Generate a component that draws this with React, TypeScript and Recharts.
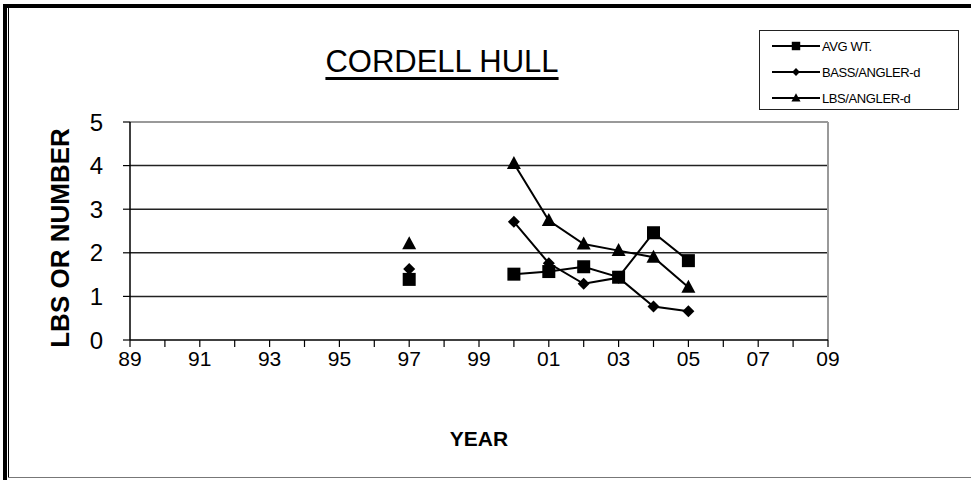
import React from "react";
import {
  CartesianGrid,
  Line,
  LineChart,
  ReferenceLine,
  XAxis,
  YAxis,
} from "recharts";

// survey years (98/99 have no data, kept so the lines break there)
const years = [1997, 1998, 1999, 2000, 2001, 2002, 2003, 2004, 2005];
const avgWt = [1.39, null, null, 1.51, 1.57, 1.68, 1.44, 2.46, 1.82];
const bassPerAngler = [1.63, null, null, 2.71, 1.76, 1.29, 1.43, 0.77, 0.66];
const lbsPerAngler = [2.21, null, null, 4.05, 2.74, 2.2, 2.05, 1.9, 1.21];

const yearTicks = [
  1989, 1990, 1991, 1992, 1993, 1994, 1995, 1996, 1997, 1998, 1999, 2000,
  2001, 2002, 2003, 2004, 2005, 2006, 2007, 2008, 2009,
];
const yTicks = [0, 1, 2, 3, 4, 5];

const FONT = "'Liberation Sans', Arial, sans-serif";

const data = years.map((year, i) => ({
  year,
  avgWt: avgWt[i],
  bass: bassPerAngler[i],
  lbs: lbsPerAngler[i],
}));

type Shape = "square" | "diamond" | "triangle";

function marker(shape: Shape, cx: number, cy: number, s = 1) {
  if (shape === "square") {
    return <rect x={cx - 6.5 * s} y={cy - 6.5 * s} width={13 * s} height={13 * s} fill="#000" />;
  }
  if (shape === "diamond") {
    const r = 6 * s;
    return (
      <polygon
        points={`${cx},${cy - r} ${cx + r},${cy} ${cx},${cy + r} ${cx - r},${cy}`}
        fill="#000"
      />
    );
  }
  return (
    <polygon
      points={`${cx},${cy - 7.5 * s} ${cx + 7 * s},${cy + 5.5 * s} ${cx - 7 * s},${cy + 5.5 * s}`}
      fill="#000"
    />
  );
}

const dotFor = (shape: Shape) => (props: any) => {
  const { cx, cy, key } = props;
  if (cx == null || cy == null || props.value == null) return <g key={key} />;
  return <g key={key}>{marker(shape, cx, cy)}</g>;
};

const legendItems: { name: string; shape: Shape }[] = [
  { name: "AVG WT.", shape: "square" },
  { name: "BASS/ANGLER-d", shape: "diamond" },
  { name: "LBS/ANGLER-d", shape: "triangle" },
];

function LegendBox() {
  return (
    <div
      style={{
        position: "absolute",
        left: 759,
        top: 30,
        border: "1px solid #222",
        background: "#fff",
        width: 200,
        height: 80,
        boxSizing: "border-box",
        paddingTop: 2,
      }}
    >
      {legendItems.map((item) => (
        <div
          key={item.name}
          style={{ display: "flex", alignItems: "center", height: 26 }}
        >
          <svg width={62} height={16} style={{ display: "block" }}>
            <line x1={12} y1={8} x2={60} y2={8} stroke="#000" strokeWidth={2} />
            {marker(item.shape, 36, 8, 0.65)}
          </svg>
          <span
            style={{
              fontFamily: FONT,
              fontSize: 13,
              color: "#000",
              letterSpacing: -0.4,
            }}
          >
            {item.name}
          </span>
        </div>
      ))}
    </div>
  );
}

export default function App() {
  return (
    <div
      style={{
        position: "absolute",
        left: 0,
        top: 0,
        width: 971,
        height: 480,
        background: "#fff",
        overflow: "hidden",
      }}
    >
      {/* frame */}
      <div style={{ position: "absolute", left: 3, top: 4, width: 968, height: 4, background: "#000" }} />
      <div style={{ position: "absolute", left: 3, top: 4, width: 4, height: 476, background: "#000" }} />
      <div style={{ position: "absolute", left: 8, top: 8, width: 1, height: 470, background: "#000" }} />
      <div style={{ position: "absolute", left: 8, top: 477, width: 963, height: 1, background: "#777" }} />

      <div
        style={{
          position: "absolute",
          left: 0,
          width: 884,
          top: 46,
          textAlign: "center",
          fontFamily: FONT,
          fontSize: 31,
          lineHeight: "31px",
          color: "#000",
          textDecoration: "underline",
          textDecorationThickness: 3,
          textUnderlineOffset: 5,
          zIndex: 1,
        }}
      >
        CORDELL HULL
      </div>

      <LineChart
        width={971}
        height={480}
        data={data}
        margin={{ top: 122, right: 143, bottom: 110, left: 60 }}
        style={{ position: "absolute", left: 0, top: 0 }}
      >
        <CartesianGrid
          horizontalValues={[1, 2, 3, 4]}
          vertical={false}
          stroke="#222"
          strokeWidth={1.5}
        />
        <ReferenceLine y={5} stroke="#999" strokeWidth={2} />
        <ReferenceLine x={2009} stroke="#999" strokeWidth={2} />
        <XAxis
          dataKey="year"
          type="number"
          domain={[1989, 2009]}
          ticks={yearTicks}
          interval={0}
          height={30}
          tickSize={7}
          tickMargin={4}
          axisLine={{ stroke: "#000", strokeWidth: 1.5 }}
          tickLine={{ stroke: "#000", strokeWidth: 1.2 }}
          tick={{ fill: "#000", fontSize: 21, fontFamily: FONT }}
          tickFormatter={(v: number) =>
            v % 2 === 1 ? String(v % 100).padStart(2, "0") : ""
          }
          label={{
            content: () => (
              <text
                x={479}
                y={446}
                textAnchor="middle"
                fontFamily={FONT}
                fontWeight="bold"
                fontSize={21}
                fill="#000"
              >
                YEAR
              </text>
            ),
          }}
        />
        <YAxis
          type="number"
          domain={[0, 5]}
          ticks={yTicks}
          interval={0}
          width={70}
          tickSize={7}
          tickMargin={20}
          axisLine={{ stroke: "#000", strokeWidth: 1.5 }}
          tickLine={{ stroke: "#000", strokeWidth: 1.2 }}
          tick={{ fill: "#000", fontSize: 24, fontFamily: FONT }}
          label={{
            content: () => (
              <text
                x={0}
                y={0}
                transform="translate(69,238) rotate(-90)"
                textAnchor="middle"
                fontFamily={FONT}
                fontWeight="bold"
                fontSize={26}
                fill="#000"
              >
                LBS OR NUMBER
              </text>
            ),
          }}
        />
        <Line
          dataKey="bass"
          name="BASS/ANGLER-d"
          stroke="#000"
          strokeWidth={2}
          dot={dotFor("diamond")}
          activeDot={false}
          isAnimationActive={false}
        />
        <Line
          dataKey="lbs"
          name="LBS/ANGLER-d"
          stroke="#000"
          strokeWidth={2}
          dot={dotFor("triangle")}
          activeDot={false}
          isAnimationActive={false}
        />
        <Line
          dataKey="avgWt"
          name="AVG WT."
          stroke="#000"
          strokeWidth={2}
          dot={dotFor("square")}
          activeDot={false}
          isAnimationActive={false}
        />
      </LineChart>

      <LegendBox />
    </div>
  );
}
